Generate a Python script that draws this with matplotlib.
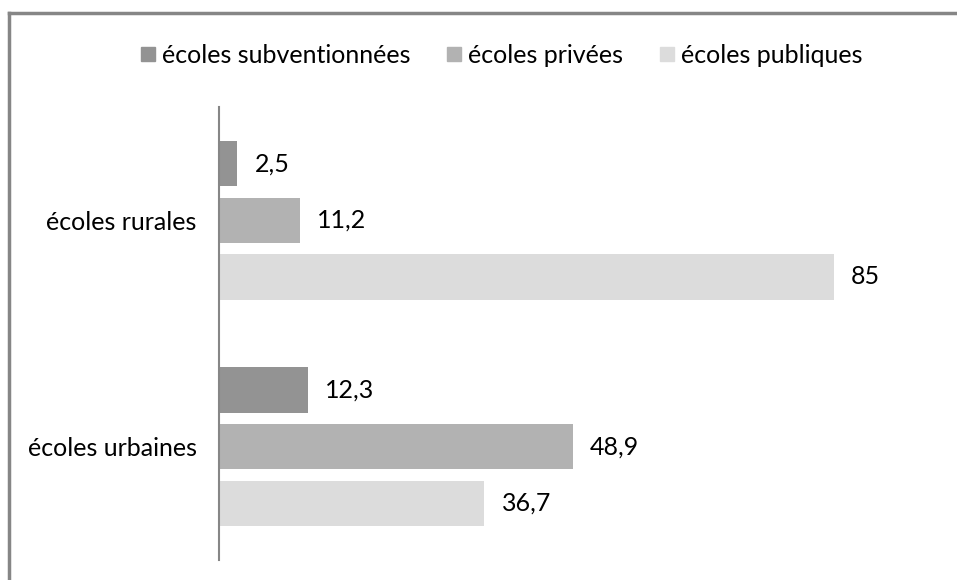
import numpy as np
import matplotlib.pyplot as plt
from matplotlib.lines import Line2D

plt.rcParams['font.family'] = ['Lato', 'DejaVu Sans']

categories = ["écoles urbaines", "écoles rurales"]
series = ["écoles subventionnées", "écoles privées", "écoles publiques"]
subventionnees = [12.3, 2.5]
privees = [48.9, 11.2]
publiques = [36.7, 85]
labels = [["12,3", "2,5"], ["48,9", "11,2"], ["36,7", "85"]]
colors = ["#939393", "#b2b2b2", "#dcdcdc"]

fig = plt.figure(figsize=(9.57, 5.80), dpi=100)
ax = fig.add_axes([0.2288, 0.0345, 0.68, 0.781])

y = np.arange(len(categories))
offsets = [0.25, 0, -0.25]
for vals, lab, off, c in zip([subventionnees, privees, publiques], labels, offsets, colors):
    ax.barh(y + off, vals, height=0.2, color=c)
    for yi, v, t in zip(y, vals, lab):
        ax.text(v + 2.4, yi + off, t, va='center', ha='left', fontsize=18)

ax.set_ylim(-0.5, 1.5)
ax.set_xlim(0, 90)
ax.set_yticks(y)
ax.set_yticklabels(categories, fontsize=18)
ax.tick_params(axis='y', length=0, pad=16)
ax.set_xticks([])
for s in ['top', 'right', 'bottom']:
    ax.spines[s].set_visible(False)
ax.spines['left'].set_color('#868686')
ax.spines['left'].set_linewidth(1.5)

handles = [Line2D([], [], marker='s', linestyle='none', markersize=10,
                  markerfacecolor=c, markeredgecolor=c) for c in colors]
fig.legend(handles, series, loc='center', bbox_to_anchor=(0.524, 0.905), ncol=3,
           frameon=False, fontsize=18, handletextpad=0.25, columnspacing=1.45,
           handlelength=0.6)

# border (top and left only visible)
fig.add_artist(Line2D([0.0099, 1.0], [0.977, 0.977], color='#868686', lw=2.5,
                      transform=fig.transFigure))
fig.add_artist(Line2D([0.0099, 0.0099], [0.0, 0.977], color='#868686', lw=2.5,
                      transform=fig.transFigure))

fig.savefig('out.png', dpi=100)
